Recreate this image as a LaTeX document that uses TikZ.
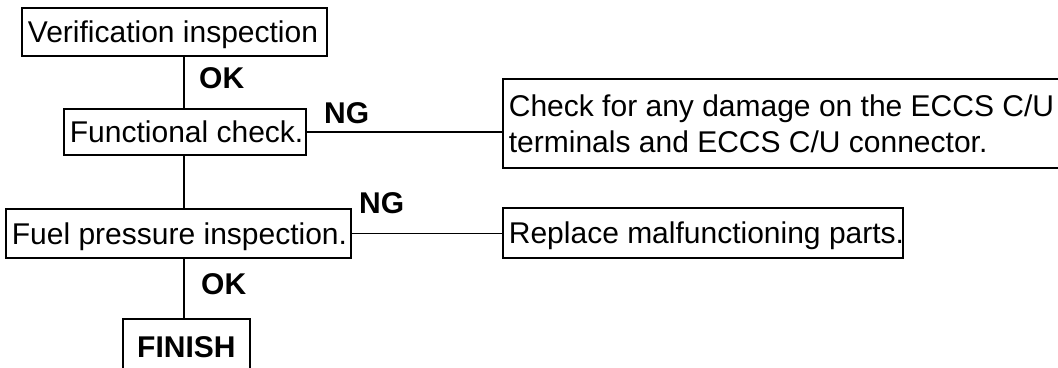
\documentclass[tikz,border=0pt]{standalone}
\usepackage{fontspec}
\setmainfont{Liberation Sans}
\begin{document}
\begin{tikzpicture}[x=1pt,y=-1pt,
  every node/.style={font=\fontsize{30}{36}\selectfont},
  lw/.style={line width=1.8pt},
  box/.style={draw, lw, anchor=north west, inner xsep=6pt, inner ysep=0pt,
    text height=21.6pt, text depth=0pt},
  finbox/.style={draw, lw, anchor=north west, inner sep=0pt,
    text height=21.6pt, text depth=0pt, font=\fontsize{30}{36}\selectfont\bfseries},
  lbl/.style={anchor=base west, inner sep=0pt, font=\fontsize{30}{36}\selectfont\bfseries},
  conn/.style={lw}]
\useasboundingbox (0,0) rectangle (1058,367);
\clip (0,0) rectangle (1058,367);
\fill[white] (0,0) rectangle (1058,367);

\node[box, minimum height=48pt] (ver) at (21,7) {\makebox[293pt][l]{Verification inspection}};
\node[box, minimum height=46pt] (fun) at (63,108) {\makebox[230pt][l]{Functional check.}};
\node[box, minimum height=49pt] (fuel) at (5,208) {\makebox[333pt][l]{Fuel pressure inspection.}};
\node[finbox, minimum width=127pt, minimum height=55pt] (fin) at (122,318) {FINISH};
\node[box, minimum height=89pt, text height=57.6pt] (chk) at (502,78)
  {\vbox{\hbox to 556pt{Check for any damage on the ECCS C/U\hfil}\hbox{terminals and ECCS C/U connector.}}};
\node[box, minimum height=50pt] (rep) at (502,207) {\makebox[388pt][l]{Replace malfunctioning parts.}};

\coordinate (spine) at (184,0);
\draw[conn] (ver.south -| spine) -- (fun.north -| spine);
\draw[conn] (fun.south -| spine) -- (fuel.north -| spine);
\draw[conn] (fuel.south -| spine) -- (fin.north -| spine);
\draw[conn] (fun.east) -- (fun.east -| chk.west);
\draw[conn] (fuel.east) -- (fuel.east -| rep.west);

\node[lbl] (ok1) at (199,88) {OK};
\node[lbl] (ng1) at (324,123) {NG};
\node[lbl] (ng2) at (359,213) {NG};
\node[lbl] (ok2) at (201,294) {OK};
\end{tikzpicture}
\end{document}
